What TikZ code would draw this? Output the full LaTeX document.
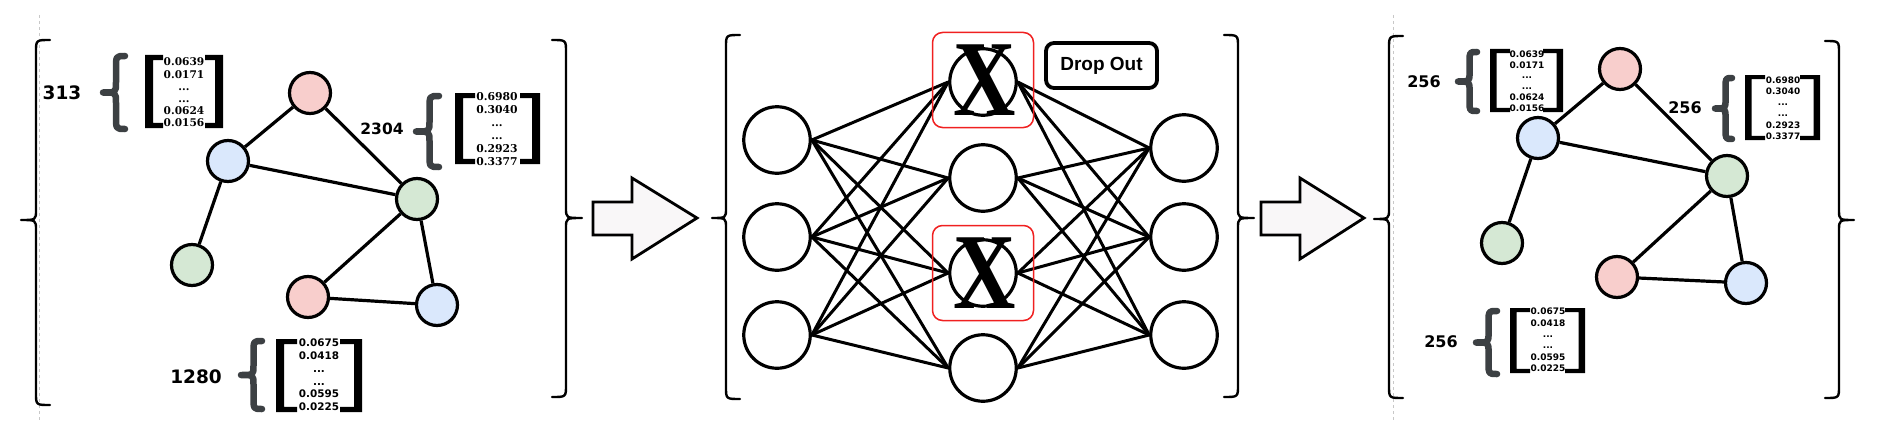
\documentclass[tikz,border=0pt]{standalone}
\usepackage{fontspec}
\newfontfamily\dvsans{DejaVu Sans}
\newfontfamily\dvserif{DejaVu Serif}
\newfontfamily\lsans{Liberation Sans}
\newfontfamily\lserif{Liberation Serif}
\definecolor{gpink}{HTML}{F8CECC}
\definecolor{gblue}{HTML}{DAE8FC}
\definecolor{ggreen}{HTML}{D5E8D4}
\definecolor{gbr}{HTML}{3C4043}
\definecolor{arrowfill}{HTML}{F9F7F8}
\definecolor{dashgray}{HTML}{C8C8C8}
\definecolor{dropred}{HTML}{F02020}
\tikzset{
 pbrace/.style={draw=black, line width=2.4pt, line cap=round, line join=round},
 gbrace/.style={draw=gbr, line width=6.5pt, line cap=round, line join=round},
 gnode/.style={circle, draw=black, line width=3.2pt, minimum size=41pt, inner sep=0pt},
 gedge/.style={line width=3.2pt},
 nnnode/.style={circle, draw=black, line width=3.2pt, minimum size=66.5pt, inner sep=0pt, fill=white},
 nnedge/.style={line width=3pt},
 fatarrow/.style={draw=black, line width=2.8pt, fill=arrowfill, line join=miter},
 sepline/.style={draw=dashgray, line width=0.8pt, dashed},
 redbox/.style={draw=dropred, line width=1.5pt, rounded corners=10pt, minimum width=101pt, minimum height=95pt, inner sep=0pt},
 dropbox/.style={draw=black, line width=3.8pt, rounded corners=8pt, minimum width=111pt, minimum height=45pt, inner sep=0pt, font=\lsans\bfseries\fontsize{19}{19}\selectfont},
 dimlabel/.style={inner sep=0pt, font=\dvsans\bfseries\fontsize{#1}{#1}\selectfont},
 vals/.style n args={3}{inner sep=0pt, align=center, font=#1\bfseries\fontsize{#2}{#3}\selectfont},
 bigx/.style={inner sep=0pt, font=\lserif\bfseries\fontsize{108}{108}\selectfont}
}
% panel brace: tip x, body x, top, mid, bottom
\newcommand{\PBraceL}[5]{%
 \draw[pbrace] ({#2+14},#3) .. controls (#2,#3) .. (#2,{#3+12}) -- (#2,{#4-10}) .. controls (#2,#4) .. (#1,#4) .. controls (#2,#4) .. (#2,{#4+10}) -- (#2,{#5-12}) .. controls (#2,#5) .. ({#2+14},#5);}
\newcommand{\PBraceR}[5]{%
 \draw[pbrace] ({#2-14},#3) .. controls (#2,#3) .. (#2,{#3+12}) -- (#2,{#4-10}) .. controls (#2,#4) .. (#1,#4) .. controls (#2,#4) .. (#2,{#4+10}) -- (#2,{#5-12}) .. controls (#2,#5) .. ({#2-14},#5);}
% gray brace: x0 x1 y0 y1
\newcommand{\GBrace}[4]{%
 \draw[gbrace] ({#2-3},{#3+3}) .. controls ({(#1+#2)/2+2},{#3+3}) .. ({(#1+#2)/2+2},{#3+0.2*(#4-#3)}) -- ({(#1+#2)/2+2},{(#3+#4)/2-0.13*(#4-#3)}) .. controls ({(#1+#2)/2+2},{(#3+#4)/2}) .. ({#1+3},{(#3+#4)/2}) .. controls ({(#1+#2)/2+2},{(#3+#4)/2}) .. ({(#1+#2)/2+2},{(#3+#4)/2+0.13*(#4-#3)}) -- ({(#1+#2)/2+2},{#4-0.2*(#4-#3)}) .. controls ({(#1+#2)/2+2},{#4-3}) .. ({#2-3},{#4-3});}
% square brackets: lx0 lx1 rx0 rx1 y0 y1 thickness
\newcommand{\SqBr}[7]{%
 \fill (#1,#5) -- (#2,#5) -- (#2,{#5+0.65*#7}) -- ({#1+#7},{#5+0.65*#7}) -- ({#1+#7},{#6-0.65*#7}) -- (#2,{#6-0.65*#7}) -- (#2,#6) -- (#1,#6) -- cycle;
 \fill (#4,#5) -- (#3,#5) -- (#3,{#5+0.65*#7}) -- ({#4-#7},{#5+0.65*#7}) -- ({#4-#7},{#6-0.65*#7}) -- (#3,{#6-0.65*#7}) -- (#3,#6) -- (#4,#6) -- cycle;}
\begin{document}
\begin{tikzpicture}[x=1pt, y=-1pt]
\fill[white] (0,0) rectangle (1902,420);
\useasboundingbox (0,0) rectangle (1902,420);

% separators
\draw[sepline] (39,15) -- (39,420);
\draw[sepline] (1393,15) -- (1393,420);

% ===== left panel =====
\PBraceL{21}{36}{40}{220}{405}
\PBraceR{582}{566}{40}{218}{397}

\node[gnode, fill=gpink]  (Lpt) at (310,93) {};
\node[gnode, fill=gblue]  (Lbl) at (228,161) {};
\node[gnode, fill=ggreen] (Lgr) at (417,199) {};
\node[gnode, fill=ggreen] (Lgl) at (192,265) {};
\node[gnode, fill=gpink]  (Lpb) at (308,297) {};
\node[gnode, fill=gblue]  (Lbb) at (437,305) {};
\draw[gedge] (Lpt) -- (Lbl);
\draw[gedge] (Lpt) -- (Lgr);
\draw[gedge] (Lbl) -- (Lgr);
\draw[gedge] (Lbl) -- (Lgl);
\draw[gedge] (Lgr) -- (Lpb);
\draw[gedge] (Lgr) -- (Lbb);
\draw[gedge] (Lpb) -- (Lbb);

\node[dimlabel=18.5] (dA) at (62,93) {313};
\GBrace{100}{128}{53}{132}
\SqBr{145}{163}{205}{223}{55}{128}{8}
\node[vals={\dvserif}{10.6}{12.2}] (vA) at (184,92.5) {0.0639\\0.0171\\...\\...\\0.0624\\0.0156};

\node[dimlabel=15.5] (dB) at (382,129) {2304};
\GBrace{413}{442}{93}{170}
\SqBr{455}{475}{520}{540}{93}{164}{8}
\node[vals={\dvserif}{10.8}{13}] (vB) at (497,129.5) {0.6980\\0.3040\\...\\...\\0.2923\\0.3377};

\node[dimlabel=18.5] (dC) at (196,377) {1280};
\GBrace{238}{265}{338}{412}
\SqBr{276}{297}{340}{362}{339}{412}{8}
\node[vals={\dvsans}{10.4}{12.8}] (vC) at (319,375) {0.0675\\0.0418\\...\\...\\0.0595\\0.0225};

% ===== arrows =====
\draw[fatarrow] (593,202) -- (632,202) -- (632,178) -- (697,218) -- (632,259) -- (632,235) -- (593,235) -- cycle;
\draw[fatarrow] (1261,202) -- (1300,202) -- (1300,178) -- (1364,218) -- (1300,259) -- (1300,235) -- (1261,235) -- cycle;

% ===== middle panel =====
\PBraceL{712}{726}{35}{218}{399}
\PBraceR{1254}{1238}{35}{218}{397}

\node[nnnode] (in1) at (777,140) {};
\node[nnnode] (in2) at (777,237) {};
\node[nnnode] (in3) at (777,335) {};
\node[nnnode] (h1) at (983,82) {};
\node[nnnode] (h2) at (983,178) {};
\node[nnnode] (h3) at (983,273) {};
\node[nnnode] (h4) at (983,368) {};
\node[nnnode] (o1) at (1184,148) {};
\node[nnnode] (o2) at (1184,237) {};
\node[nnnode] (o3) at (1184,335) {};
\foreach \i in {1,2,3}{
  \foreach \j in {1,2,3,4}{
    \draw[nnedge] (in\i.east) -- (h\j.west);
    \draw[nnedge] (h\j.east) -- (o\i.west);
  }
}
\node[redbox] (r1) at (983,80) {};
\node[redbox] (r2) at (983,273) {};
\node[bigx] (x1) at (985,80) {\scalebox{0.8}[1]{X}};
\node[bigx] (x2) at (985,273) {\scalebox{0.8}[1]{X}};
\node[dropbox] (drop) at (1101.5,65.5) {Drop Out};

% ===== right panel =====
\PBraceL{1374}{1389}{36}{219}{398}
\PBraceR{1854}{1839}{41}{220}{398}

\node[gnode, fill=gpink]  (Rpt) at (1620,69) {};
\node[gnode, fill=gblue]  (Rbl) at (1538,138) {};
\node[gnode, fill=ggreen] (Rgr) at (1727,176) {};
\node[gnode, fill=ggreen] (Rgl) at (1502,243) {};
\node[gnode, fill=gpink]  (Rpb) at (1617,277) {};
\node[gnode, fill=gblue]  (Rbb) at (1746,283) {};
\draw[gedge] (Rpt) -- (Rbl);
\draw[gedge] (Rpt) -- (Rgr);
\draw[gedge] (Rbl) -- (Rgr);
\draw[gedge] (Rbl) -- (Rgl);
\draw[gedge] (Rgr) -- (Rpb);
\draw[gedge] (Rgr) -- (Rbb);
\draw[gedge] (Rpb) -- (Rbb);

\node[dimlabel=16] (dD) at (1424,82) {256};
\GBrace{1455}{1480}{49}{114}
\SqBr{1490}{1510}{1543}{1563}{49}{112}{6.5}
\node[vals={\dvsans}{9}{10.8}] (vD) at (1527,81) {0.0639\\0.0171\\...\\...\\0.0624\\0.0156};

\node[dimlabel=16] (dE) at (1685,108) {256};
\GBrace{1712}{1735}{75}{142}
\SqBr{1745}{1765}{1800}{1820}{75}{140}{6.5}
\node[vals={\dvsans}{8.9}{11.2}] (vE) at (1783,108) {0.6980\\0.3040\\...\\...\\0.2923\\0.3377};

\node[dimlabel=16] (dF) at (1441,342) {256};
\GBrace{1473}{1500}{308}{377}
\SqBr{1510}{1530}{1565}{1585}{308}{373}{6.5}
\node[vals={\dvsans}{9}{11.4}] (vF) at (1548,340) {0.0675\\0.0418\\...\\...\\0.0595\\0.0225};
\end{tikzpicture}
\end{document}
